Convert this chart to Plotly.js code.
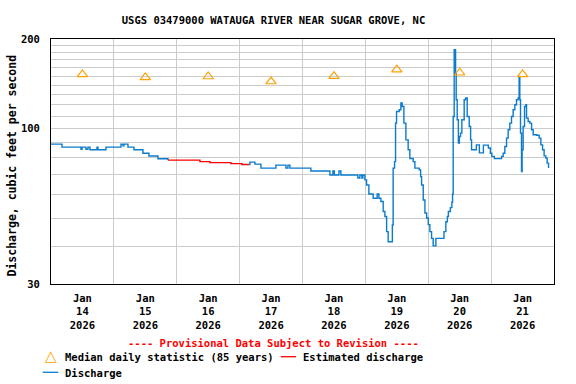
<!DOCTYPE html>
<html>
<head>
<meta charset="utf-8">
<script src="https://cdn.plot.ly/plotly-3.0.1.min.js"></script>
<style>
  html, body { margin: 0; padding: 0; background: #fff; }
  #plot { width: 576px; height: 384px; }
</style>
</head>
<body>
<div id="plot"></div>
<script>

// median daily statistic (85 years), plotted at noon
const medianDays = ["2026-01-14 12:00", "2026-01-15 12:00", "2026-01-16 12:00", "2026-01-17 12:00",
                    "2026-01-18 12:00", "2026-01-19 12:00", "2026-01-20 12:00", "2026-01-21 12:00"];
const medianValues = [152, 148.6, 149.6, 143.9, 150, 157.8, 154, 152];

// discharge, first part (before the estimated stretch)
const dischargeTimesA = [
  "2026-01-14 00:00", "2026-01-14 04:12", "2026-01-14 11:27", "2026-01-14 11:50", "2026-01-14 13:21",
  "2026-01-14 14:07", "2026-01-14 14:53", "2026-01-14 17:33", "2026-01-14 17:56", "2026-01-14 20:59",
  "2026-01-15 02:43", "2026-01-15 03:28", "2026-01-15 03:51", "2026-01-15 05:23", "2026-01-15 07:40",
  "2026-01-15 11:06", "2026-01-15 13:23", "2026-01-15 16:49", "2026-01-15 20:38"
];
const dischargeA = [88.6, 86.6, 85.2, 86.6, 85.2, 86.6, 84.8, 86.6, 84.8, 86.6,
                    88.6, 87.5, 88.6, 86.6, 84.8, 82.6, 80.8, 79.1, 78.3];

// estimated discharge
const estTimes = ["2026-01-15 20:38", "2026-01-16 08:51", "2026-01-16 12:40", "2026-01-16 20:41",
                  "2026-01-17 00:53", "2026-01-17 03:33"];
const estValues = [78.3, 77.4, 76.8, 76.2, 75.7, 75.7];

// discharge, second part
const dischargeTimesB = [
  "2026-01-17 03:33", "2026-01-17 03:56", "2026-01-17 05:50", "2026-01-17 08:08", "2026-01-17 13:51",
  "2026-01-17 17:40", "2026-01-17 18:26", "2026-01-17 19:11", "2026-01-18 03:12", "2026-01-18 10:28",
  "2026-01-18 11:36", "2026-01-18 12:10", "2026-01-18 13:54", "2026-01-18 14:39", "2026-01-18 21:08",
  "2026-01-18 21:54", "2026-01-18 22:40", "2026-01-18 23:03", "2026-01-18 23:49", "2026-01-19 00:27",
  "2026-01-19 01:20", "2026-01-19 02:59", "2026-01-19 04:30", "2026-01-19 05:09", "2026-01-19 05:55",
  "2026-01-19 06:48", "2026-01-19 07:27", "2026-01-19 08:06", "2026-01-19 08:42", "2026-01-19 10:18",
  "2026-01-19 10:36", "2026-01-19 11:08", "2026-01-19 11:31", "2026-01-19 11:54", "2026-01-19 12:54",
  "2026-01-19 13:33", "2026-01-19 14:03", "2026-01-19 14:42", "2026-01-19 15:28", "2026-01-19 16:20",
  "2026-01-19 16:59", "2026-01-19 18:15", "2026-01-19 18:54", "2026-01-19 20:33", "2026-01-19 21:05",
  "2026-01-19 21:28", "2026-01-19 22:05", "2026-01-19 22:44", "2026-01-19 23:23", "2026-01-20 00:00",
  "2026-01-20 00:37", "2026-01-20 01:16", "2026-01-20 01:53", "2026-01-20 02:55", "2026-01-20 05:06",
  "2026-01-20 06:00", "2026-01-20 06:43", "2026-01-20 07:18", "2026-01-20 07:41", "2026-01-20 08:26",
  "2026-01-20 09:01", "2026-01-20 09:17", "2026-01-20 09:31", "2026-01-20 09:54", "2026-01-20 10:26",
  "2026-01-20 10:40", "2026-01-20 11:03", "2026-01-20 11:30", "2026-01-20 11:53", "2026-01-20 12:20",
  "2026-01-20 12:50", "2026-01-20 13:43", "2026-01-20 14:15", "2026-01-20 14:52", "2026-01-20 15:38",
  "2026-01-20 16:10", "2026-01-20 16:32", "2026-01-20 18:22", "2026-01-20 19:31", "2026-01-20 21:03",
  "2026-01-20 22:57", "2026-01-20 23:43", "2026-01-21 00:17", "2026-01-21 01:14", "2026-01-21 03:59",
  "2026-01-21 04:36", "2026-01-21 05:14", "2026-01-21 05:53", "2026-01-21 06:30", "2026-01-21 07:08",
  "2026-01-21 07:47", "2026-01-21 08:24", "2026-01-21 09:03", "2026-01-21 09:41", "2026-01-21 10:18",
  "2026-01-21 10:41", "2026-01-21 10:57", "2026-01-21 11:13", "2026-01-21 11:36", "2026-01-21 11:50",
  "2026-01-21 12:13", "2026-01-21 12:45", "2026-01-21 13:15", "2026-01-21 13:31", "2026-01-21 14:08",
  "2026-01-21 14:47", "2026-01-21 15:26", "2026-01-21 16:03", "2026-01-21 17:21", "2026-01-21 18:20",
  "2026-01-21 18:59", "2026-01-21 19:38", "2026-01-21 20:14", "2026-01-21 20:53", "2026-01-21 21:23",
  "2026-01-21 21:55"
];
const dischargeB = [
  75.7, 77.1, 75.9, 73.6, 75.3,
  73.6, 75.3, 73.6, 72.0, 69.8,
  72.0, 69.8, 72.0, 69.8, 68.2,
  69.8, 68.2, 69.8, 67.2, 64.6,
  60.2, 58.3, 60.2, 58.3, 56.8,
  52.6, 50.6, 45.0, 41.6, 47.4,
  73.6, 77.4, 104.3, 114.1, 115.6,
  121.8, 118.6, 104.3, 91.6, 84.8,
  79.3, 77.4, 73.6, 72.6, 68.9,
  64.6, 57.5, 52.0, 50.0, 47.5,
  45.0, 42.7, 40.3, 42.7, 42.7,
  45.0, 48.6, 50.6, 52.6, 54.2,
  56.5, 60.2, 109.8, 184.1, 153.7,
  124.9, 107.0, 89.3, 94.0, 96.5,
  107.0, 124.9, 126.6, 109.8, 101.6,
  91.6, 84.8, 88.1, 82.8, 87.9,
  86.0, 82.6, 80.6, 79.2, 80.6,
  82.6, 87.0, 92.8, 99.0, 104.3,
  109.8, 115.6, 120.2, 124.9, 126.6,
  149.7, 124.9, 96.5, 71.6, 84.8,
  101.6, 118.6, 120.2, 108.4, 105.6,
  104.3, 99.0, 95.3, 94.9, 92.8,
  88.1, 84.8, 80.9, 79.5, 76.5,
  73.6
];

// axis ticks
const dayTicks = ["2026-01-14 12:00", "2026-01-15 12:00", "2026-01-16 12:00", "2026-01-17 12:00",
                  "2026-01-18 12:00", "2026-01-19 12:00", "2026-01-20 12:00", "2026-01-21 12:00"];
const dayLabels = ["Jan<br>14<br>2026", "Jan<br>15<br>2026", "Jan<br>16<br>2026", "Jan<br>17<br>2026",
                   "Jan<br>18<br>2026", "Jan<br>19<br>2026", "Jan<br>20<br>2026", "Jan<br>21<br>2026"];
const yTickVals = [30, 40, 50, 60, 70, 80, 90, 100, 110, 120, 130, 140, 150, 160, 170, 180, 190, 200];
const yTickText = ["30", "", "", "", "", "", "", "100", "", "", "", "", "", "", "", "", "", "200"];

// ---- drawing ----

const FONT = "DejaVu Sans Mono, monospace";
const BLUE = "#0a7bcd";
const RED = "#ff0000";
const ORANGE = "#ffa000";

const traces = [
  {
    x: dischargeTimesA, y: dischargeA, type: "scatter", mode: "lines",
    line: { color: BLUE, width: 1.4, shape: "hv" }, hoverinfo: "skip"
  },
  {
    x: estTimes, y: estValues, type: "scatter", mode: "lines",
    line: { color: RED, width: 1.4, shape: "hv" }, hoverinfo: "skip"
  },
  {
    x: dischargeTimesB, y: dischargeB, type: "scatter", mode: "lines",
    line: { color: BLUE, width: 1.4, shape: "hv" }, hoverinfo: "skip"
  },
  {
    x: medianDays, y: medianValues, type: "scatter", mode: "markers",
    marker: { symbol: "triangle-up-open", size: 9, color: ORANGE, line: { width: 1.2, color: ORANGE } },
    hoverinfo: "skip"
  }
];

// paper coords for the hand-built legend (plot area is 503 x 245 px)
const px = v => (v - 51) / 503;
const py = v => (284 - v) / 245;

const layout = {
  width: 576,
  height: 384,
  margin: { l: 51, r: 22, t: 39, b: 100 },
  paper_bgcolor: "#fff",
  plot_bgcolor: "#fff",
  showlegend: false,
  font: { family: FONT, size: 10.5, color: "#000", weight: "bold" },
  title: {
    text: "USGS 03479000 WATAUGA RIVER NEAR SUGAR GROVE, NC",
    font: { family: FONT, size: 10.5, color: "#000", weight: "bold" },
    xref: "paper", x: px(273.5), xanchor: "center",
    yref: "container", y: 1 - 20 / 384, yanchor: "middle"
  },
  xaxis: {
    type: "date",
    range: ["2026-01-14 00:00", "2026-01-22 00:00"],
    tickmode: "array",
    tickvals: dayTicks,
    ticktext: dayLabels,
    ticks: "",
    ticklabelstandoff: 4,
    showgrid: false,
    zeroline: false,
    showline: true, mirror: true, linecolor: "#000", linewidth: 1,
    tickfont: { family: FONT, size: 10.5, color: "#000", weight: "bold" },
    minor: {
      tickmode: "linear", tick0: "2026-01-14", dtick: 86400000,
      showgrid: true, gridcolor: "#cccccc", gridwidth: 1, ticks: ""
    }
  },
  yaxis: {
    type: "log",
    range: [Math.log10(30), Math.log10(200)],
    tickmode: "array",
    tickvals: yTickVals,
    ticktext: yTickText,
    ticks: "",
    ticklabelstandoff: 8,
    showgrid: true, gridcolor: "#cccccc", gridwidth: 1,
    zeroline: false,
    showline: true, mirror: true, linecolor: "#000", linewidth: 1,
    tickfont: { family: FONT, size: 10.5, color: "#000", weight: "bold" }
  },
  annotations: [
    {
      text: "Discharge, cubic feet per second", textangle: -90,
      xref: "paper", yref: "paper", x: px(11.5), y: py(166),
      xanchor: "center", yanchor: "middle", showarrow: false,
      font: { family: FONT, size: 11.5, color: "#000", weight: "bold" }
    },
    {
      text: "---- Provisional Data Subject to Revision ----",
      xref: "paper", yref: "paper", x: px(273.5), y: py(342.7),
      xanchor: "center", yanchor: "middle", showarrow: false,
      font: { family: FONT, size: 10.5, color: RED, weight: "bold" }
    },
    {
      text: "△", xref: "paper", yref: "paper", x: px(51), y: py(355.5),
      xanchor: "center", yanchor: "middle", showarrow: false,
      font: { family: "DejaVu Sans", size: 15, color: ORANGE }
    },
    {
      text: "Median daily statistic (85 years)",
      xref: "paper", yref: "paper", x: px(63), y: py(357),
      xanchor: "left", yanchor: "middle", showarrow: false
    },
    {
      text: "Estimated discharge",
      xref: "paper", yref: "paper", x: px(300.5), y: py(357),
      xanchor: "left", yanchor: "middle", showarrow: false
    },
    {
      text: "Discharge",
      xref: "paper", yref: "paper", x: px(63), y: py(372.7),
      xanchor: "left", yanchor: "middle", showarrow: false
    }
  ],
  shapes: [
    {
      type: "line", xref: "paper", yref: "paper",
      x0: px(280.7), x1: px(296), y0: py(356.7), y1: py(356.7),
      line: { color: RED, width: 1.3 }
    },
    {
      type: "line", xref: "paper", yref: "paper",
      x0: px(42.7), x1: px(58.3), y0: py(372.3), y1: py(372.3),
      line: { color: BLUE, width: 1.3 }
    }
  ]
};

Plotly.newPlot("plot", traces, layout, { staticPlot: true, displayModeBar: false });
</script>
</body>
</html>
